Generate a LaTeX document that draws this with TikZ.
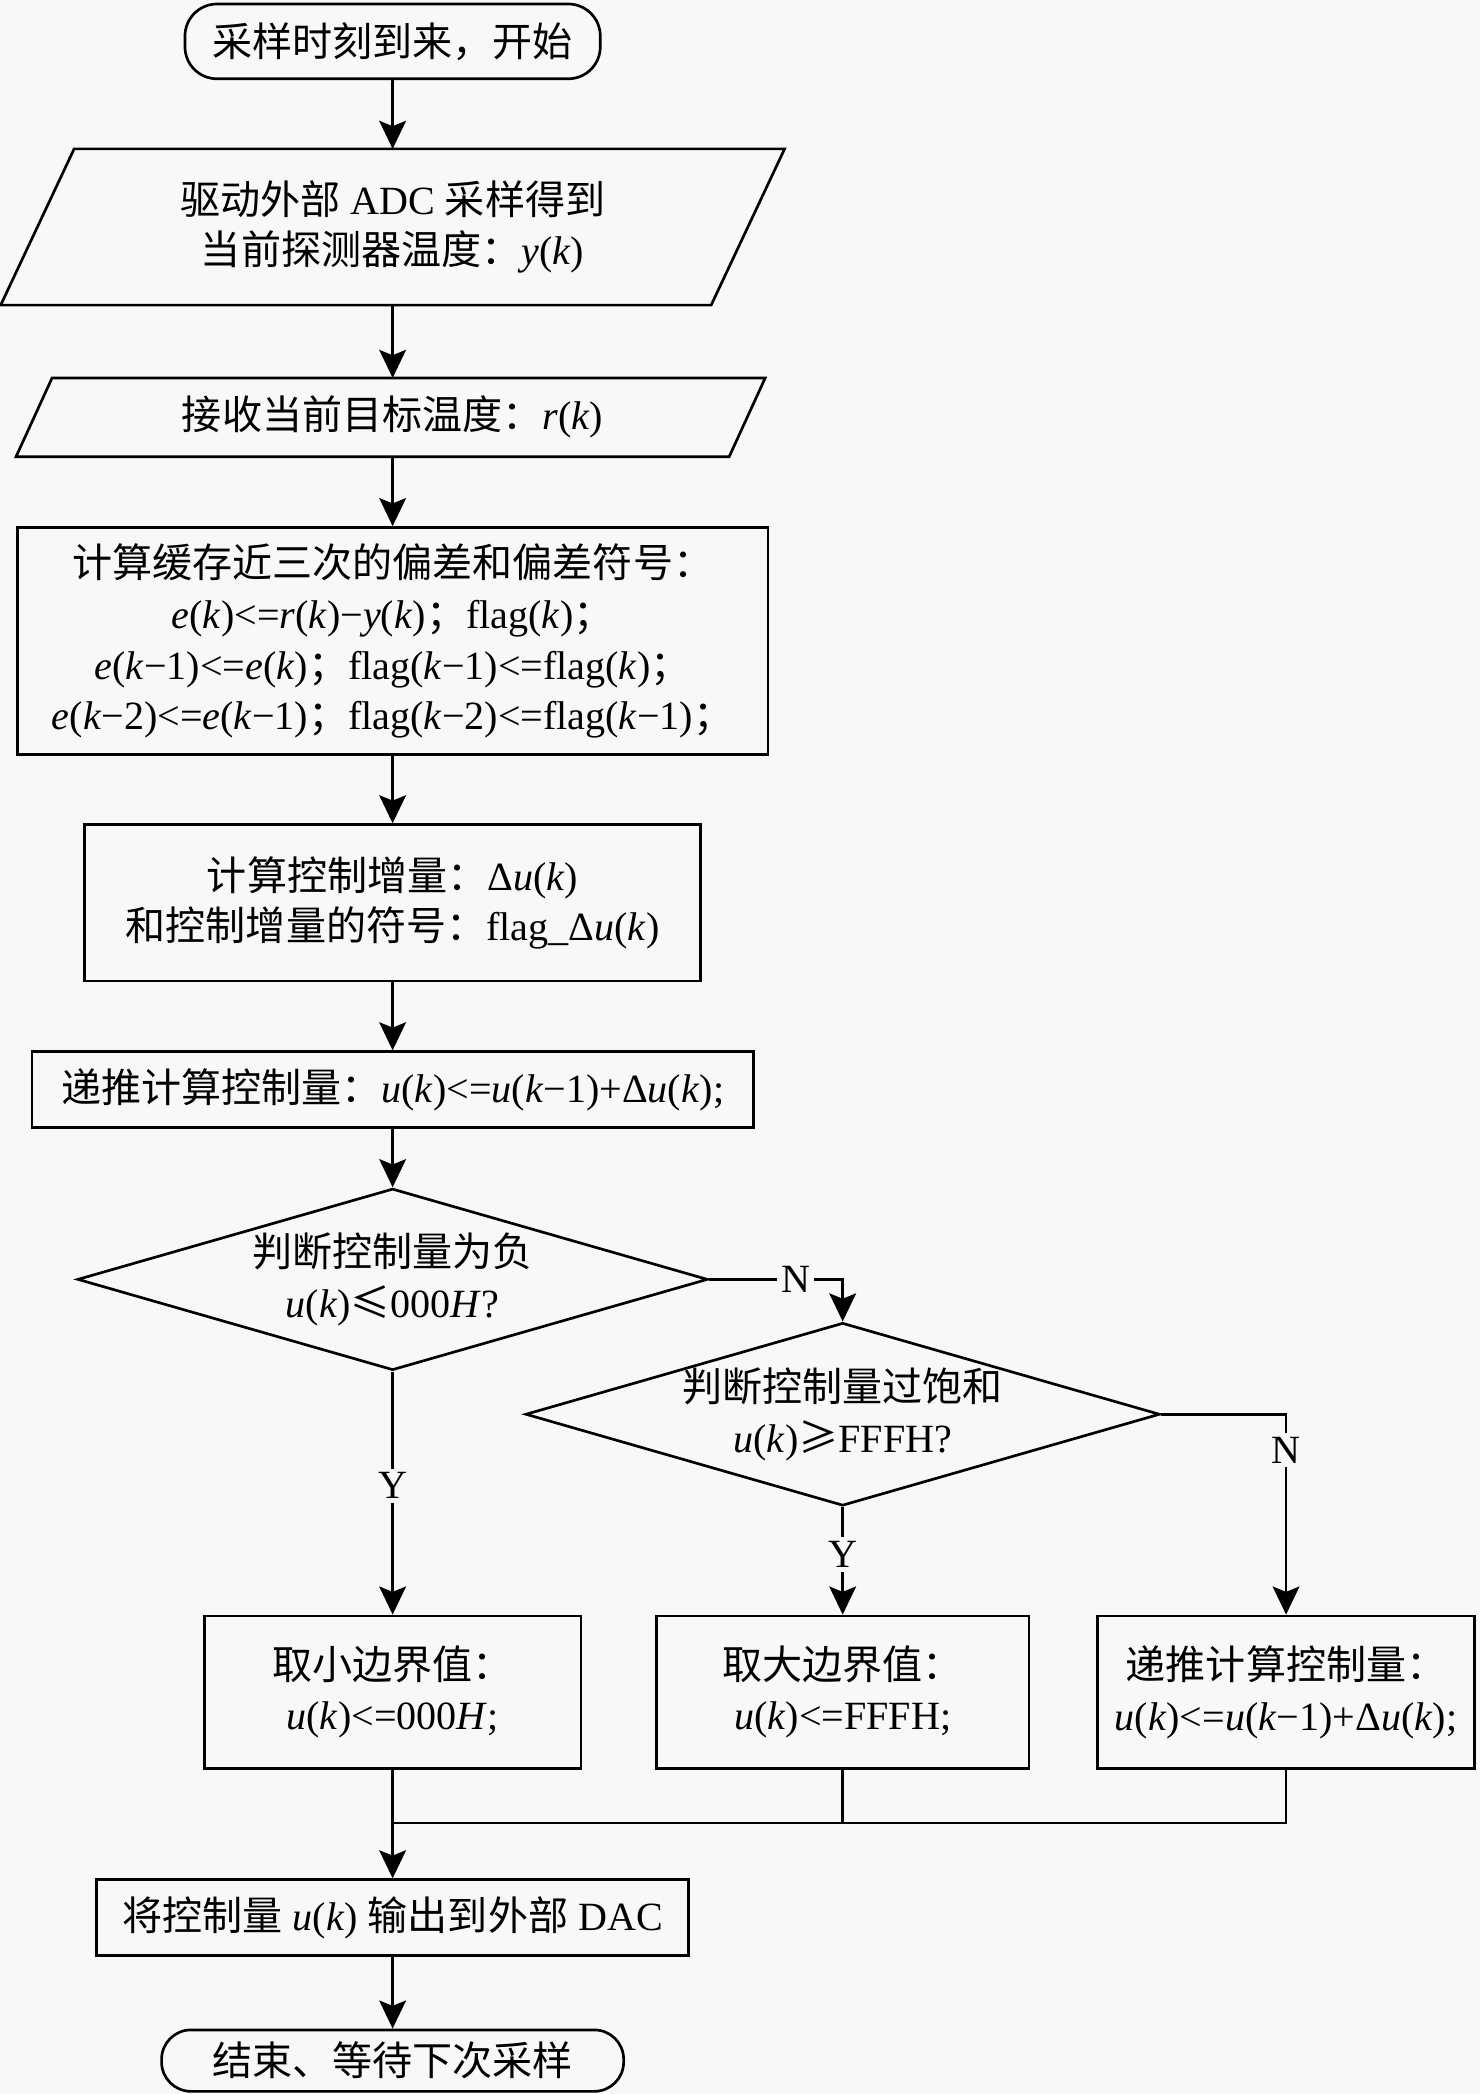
\documentclass[tikz,border=0pt]{standalone}
\usepackage{fontspec}
\setmainfont{Liberation Serif}
\newfontfamily\cjk{Noto Sans CJK SC}
\usetikzlibrary{shapes.geometric,arrows.meta}
\newcommand{\zh}[1]{{\cjk #1}}
\newcommand{\ik}{\textit{k}}
\newcommand{\fs}{\fontsize{30}{38}\selectfont}
\definecolor{paper}{RGB}{248,248,248}
\tikzset{
        x=1pt, y=-1pt,
        every node/.style={font=\fs, align=center, inner sep=0pt},
        term/.style={rectangle, draw=black, rounded corners=24pt},
        io/.style={rectangle},
        proc/.style={rectangle, draw=black},
        decide/.style={diamond, draw=black, aspect=3.47, inner sep=-4pt},
        arr/.style={-{Stealth[length=21pt, width=20pt, inset=4pt]}},
        lbl/.style={fill=paper, inner sep=3pt}
          }

\begin{document}
\begin{tikzpicture}[line width=2pt]
        \useasboundingbox (0,0) rectangle (1108,1568);
        \fill[paper] (0,0) rectangle (1108,1568);
        % main column
        \node[term, minimum width=311pt, minimum height=56pt] (start) at (294,31) {\zh{采样时刻到来，开始}};
        \node[io, minimum width=530pt, minimum height=115pt] (adc) at (294,170)
          {\zh{驱动外部} ADC \zh{采样得到}\\\zh{当前探测器温度：}\textit{y}(\ik)};
        \draw ([xshift=27.5pt]adc.north west) -- ([xshift=27.5pt]adc.north east)
          -- ([xshift=-27.5pt]adc.south east) -- ([xshift=-27.5pt]adc.south west) -- cycle;
        \node[io, minimum width=532pt, minimum height=57pt] (goal) at (294,312.5)
          {\zh{接收当前目标温度：}\textit{r}(\ik)};
        \draw ([xshift=12pt]goal.north west) -- ([xshift=12pt]goal.north east)
          -- ([xshift=-15pt]goal.south east) -- ([xshift=-15pt]goal.south west) -- cycle;
        \node[proc, minimum width=562pt, minimum height=170pt] (err) at (294,480)
          {\zh{计算缓存近三次的偏差和偏差符号：}\\
           \textit{e}(\ik)<=\textit{r}(\ik)−\textit{y}(\ik)\zh{；}flag(\ik)\zh{；}\\
           \textit{e}(\ik−1)<=\textit{e}(\ik)\zh{；}flag(\ik−1)<=flag(\ik)\zh{；}\\
           \textit{e}(\ik−2)<=\textit{e}(\ik−1)\zh{；}flag(\ik−2)<=flag(\ik−1)\zh{；}};
        \node[proc, minimum width=461pt, minimum height=117pt] (inc) at (294,676)
          {\zh{计算控制增量：}Δ\textit{u}(\ik)\\\zh{和控制增量的符号：}flag\_Δ\textit{u}(\ik)};
        \node[proc, minimum width=540pt, minimum height=57pt] (ctrl) at (294,816)
          {\zh{递推计算控制量：}\textit{u}(\ik)<=\textit{u}(\ik−1)+Δ\textit{u}(\ik);};
        \node[decide, minimum width=472pt, minimum height=136pt] (neg) at (294,958)
          {\zh{判断控制量为负}\\\textit{u}(\ik)\zh{≤}000\textit{H}?};
        \node[decide, minimum width=475pt, minimum height=137pt] (sat) at (631,1059)
          {\zh{判断控制量过饱和}\\\textit{u}(\ik)\zh{≥}FFFH?};
        % three branches
        \node[proc, minimum width=282pt, minimum height=114pt] (low) at (294,1267)
          {\zh{取小边界值：}\\\textit{u}(\ik)<=000\textit{H};};
        \node[proc, minimum width=279pt, minimum height=114pt] (high) at (631,1267)
          {\zh{取大边界值：}\\\textit{u}(\ik)<=FFFH;};
        \node[proc, minimum width=282pt, minimum height=114pt] (keep) at (963,1267)
          {\zh{递推计算控制量：}\\\textit{u}(\ik)<=\textit{u}(\ik−1)+Δ\textit{u}(\ik);};
        \node[proc, minimum width=443pt, minimum height=57pt] (dac) at (294,1436)
          {\zh{将控制量} \textit{u}(\ik) \zh{输出到外部} DAC};
        \node[term, rounded corners=22pt, minimum width=346pt, minimum height=46pt] (stop) at (294,1543)
          {\zh{结束、等待下次采样}};
        \coordinate (join) at (294,1365);

        \draw[arr] (start) -- (adc);
        \draw[arr] (adc) -- (goal);
        \draw[arr] (goal) -- (err);
        \draw[arr] (err) -- (inc);
        \draw[arr] (inc) -- (ctrl);
        \draw[arr] (ctrl) -- (neg);
        \draw[arr] (neg.east) -- node[lbl, pos=0.65]{N} (neg.east -| sat.north) -- (sat.north);
        \draw[arr] (neg.south) -- node[lbl, pos=0.47]{Y} (low.north);
        \draw[arr] (sat.south) -- node[lbl, pos=0.44]{Y} (high.north);
        \draw[arr] (sat.east) -| node[lbl, pos=0.59]{N} (keep.north);
        \draw (high.south) |- (join);
        \draw (keep.south) |- (join);
        \draw[arr] (low) -- (dac);
        \draw[arr] (dac) -- (stop);
\end{tikzpicture}
\end{document}
